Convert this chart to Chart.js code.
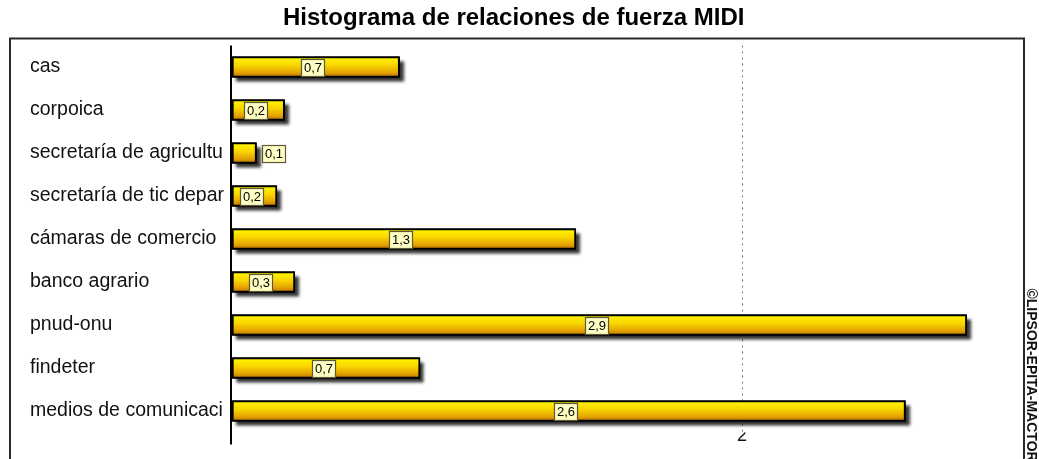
<!DOCTYPE html>
<html>
<head>
<meta charset="utf-8">
<script src="https://cdn.jsdelivr.net/npm/chart.js@4/dist/chart.umd.min.js"></script>
<style>
  html, body { margin: 0; padding: 0; background: #fff; }
  #wrap { width: 1039px; height: 459px; position: relative; }
</style>
</head>
<body>
<div id="wrap"><canvas id="c" width="1039" height="459"></canvas></div>
<script>
const titleText = 'Histograma de relaciones de fuerza MIDI';
const categories = ['cas', 'corpoica', 'secretaría de agricultu', 'secretaría de tic depar', 'cámaras de comercio', 'banco agrario', 'pnud-onu', 'findeter', 'medios de comunicaci'];
const values = [0.66, 0.21, 0.10, 0.18, 1.35, 0.25, 2.88, 0.74, 2.64];
const valueLabels = ['0,7', '0,2', '0,1', '0,2', '1,3', '0,3', '2,9', '0,7', '2,6'];
const xTickLabels = { 2: '2' };
const watermark = '©LIPSOR-EPITA-MACTOR';

const FONT = '"Liberation Sans", Arial, sans-serif';
const NARROW = '"Liberation Sans Narrow", "Liberation Sans", Arial, sans-serif';

const shadowPlugin = {
  id: 'barShadow',
  beforeDatasetsDraw(chart) {
    const ctx = chart.ctx;
    chart.getDatasetMeta(0).data.forEach(el => {
      const p = el.getProps(['x', 'y', 'base', 'height'], true);
      ctx.save();
      ctx.shadowColor = 'rgba(0,0,0,0.8)';
      ctx.shadowBlur = 3;
      ctx.shadowOffsetX = 4;
      ctx.shadowOffsetY = 4;
      ctx.fillStyle = '#000';
      ctx.fillRect(p.base, p.y - p.height / 2, p.x - p.base, p.height);
      ctx.restore();
    });
  }
};

const valueLabelPlugin = {
  id: 'valueLabels',
  afterDatasetsDraw(chart) {
    const ctx = chart.ctx;
    ctx.save();
    ctx.font = '13px ' + FONT;
    ctx.textAlign = 'center';
    ctx.textBaseline = 'middle';
    chart.getDatasetMeta(0).data.forEach((el, i) => {
      const p = el.getProps(['x', 'y', 'base'], true);
      const t = valueLabels[i];
      const w = Math.round(ctx.measureText(t).width) + 5;
      const h = 17;
      let cx = (p.x + p.base) / 2 - 3;
      if (p.x - p.base < w + 8) cx = p.x + 5 + w / 2;
      const left = Math.round(cx - w / 2) + 0.5;
      const top = Math.round(p.y - h / 2) + 0.5;
      ctx.fillStyle = '#FFFFC4';
      ctx.fillRect(left, top, w, h);
      ctx.strokeStyle = '#5E5838';
      ctx.lineWidth = 1.2;
      ctx.strokeRect(left, top, w, h);
      ctx.fillStyle = '#000';
      ctx.fillText(t, left + w / 2, p.y + 1);
    });
    ctx.restore();
  }
};

const framePlugin = {
  id: 'frame',
  afterDraw(chart) {
    const ctx = chart.ctx;
    const tb = chart.titleBlock;
    const top = tb.bottom - 7;
    ctx.save();
    ctx.strokeStyle = '#2a2a2a';
    ctx.lineWidth = 2;
    ctx.strokeRect(10, top, chart.width - 15 - 10, chart.height - top + 20);
    ctx.translate(chart.width - 8, chart.chartArea.top + 243);
    ctx.rotate(Math.PI / 2);
    ctx.font = 'bold 14px ' + NARROW;
    ctx.fillStyle = '#111';
    ctx.textAlign = 'left';
    ctx.textBaseline = 'middle';
    ctx.fillText(watermark, 0, 0);
    ctx.restore();
  }
};

function barGradient(c) {
  const chart = c.chart;
  if (!chart.chartArea || !chart.scales.y) return '#F2C400';
  const y = chart.scales.y.getPixelForValue(c.dataIndex);
  const g = chart.ctx.createLinearGradient(0, y - 9, 0, y + 9);
  g.addColorStop(0, '#FFF400');
  g.addColorStop(0.4, '#F9D600');
  g.addColorStop(0.8, '#E5A400');
  g.addColorStop(1, '#C47C00');
  return g;
}

new Chart(document.getElementById('c'), {
  type: 'bar',
  data: {
    labels: categories,
    datasets: [{
      data: values,
      backgroundColor: barGradient,
      borderColor: '#000',
      borderWidth: 2,
      borderSkipped: false,
      barThickness: 21
    }]
  },
  plugins: [shadowPlugin, valueLabelPlugin, framePlugin],
  options: {
    indexAxis: 'y',
    responsive: false,
    animation: false,
    devicePixelRatio: 1,
    layout: { padding: { left: 30, right: 41.5, top: 0, bottom: 12.5 } },
    plugins: {
      legend: { display: false },
      tooltip: { enabled: false },
      title: {
        display: true,
        text: titleText,
        color: '#000',
        font: { family: NARROW, size: 24, weight: 'bold' },
        padding: { top: 4, bottom: 12.7 }
      }
    },
    scales: {
      x: {
        type: 'linear',
        min: 0,
        max: 3,
        afterFit(s) { s.height = 14; },
        ticks: {
          stepSize: 1,
          padding: -19,
          color: '#111',
          font: { family: FONT, size: 18 },
          callback: v => (xTickLabels[v] !== undefined ? xTickLabels[v] : '')
        },
        grid: {
          drawTicks: true,
          tickLength: 12,
          color: c => (c.tick && c.tick.value === 0 ? '#000' : (c.tick && c.tick.value === 2 ? '#777' : 'rgba(0,0,0,0)')),
          lineWidth: c => (c.tick && c.tick.value === 0 ? 2 : 1),
          tickColor: c => (c.tick && c.tick.value === 0 ? '#000' : 'rgba(0,0,0,0)'),
          tickWidth: 2
        },
        border: {
          display: false,
          dash: c => (c.tick && c.tick.value === 2 ? [2, 4] : [])
        }
      },
      y: {
        afterFit(s) { s.width = 201; },
        ticks: {
          crossAlign: 'far',
          color: '#111',
          font: { family: FONT, size: 19.5 }
        },
        grid: { display: false },
        border: { display: false }
      }
    }
  }
});
</script>
</body>
</html>
